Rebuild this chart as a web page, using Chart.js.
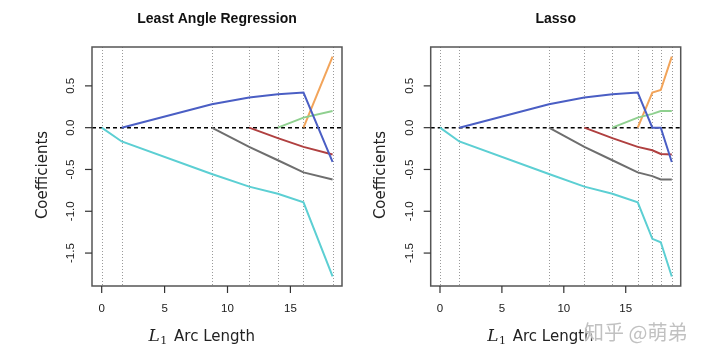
<!DOCTYPE html>
<html>
<head>
<meta charset="utf-8">
<script src="https://cdn.jsdelivr.net/npm/chart.js@4.4.1/dist/chart.umd.min.js"></script>
<style>
  html, body { margin: 0; padding: 0; background: #ffffff; }
  #wrap { position: relative; width: 720px; height: 361px; overflow: hidden; }
  .panel { position: absolute; top: 0; width: 360px; height: 361px; }
  #wm { position: absolute; left: 584px; top: 317px; font: 20px "Noto Sans CJK SC", sans-serif;
        color: rgba(190,190,190,0.95); text-shadow: 0 0 2px #fff, 0 0 3px #fff; white-space: nowrap; }
</style>
</head>
<body>
<div id="wrap">
  <div class="panel" style="left:0"><canvas id="c1" width="360" height="361"></canvas></div>
  <div class="panel" style="left:360px"><canvas id="c2" width="360" height="361"></canvas></div>
  <div id="wm">知乎 @萌弟</div>
</div>
<script>
// ---------------- data ----------------
const seriesNames  = ['cyan', 'blue', 'gray', 'red', 'green', 'orange'];
const seriesColors = ['#5ccfd3', '#4a5ec4', '#6e6e6e', '#b04040', '#8fd08f', '#f2a45a'];

// Least Angle Regression: knots (L1 arc length) and coefficient values at the knots
const larKnots  = [0, 1.59, 8.75, 11.72, 14.0, 16.04, 18.35];
const larCyan   = [0, -0.165, -0.554, -0.705, -0.79, -0.893, -1.78];
const larBlue   = [null, 0, 0.28, 0.36, 0.40, 0.42, -0.41];
const larGray   = [null, null, 0, -0.23, -0.39, -0.535, -0.62];
const larRed    = [null, null, null, 0, -0.125, -0.23, -0.32];
const larGreen  = [null, null, null, null, 0, 0.12, 0.20];
const larOrange = [null, null, null, null, null, 0, 0.85];

// Lasso
const lassoKnots  = [0, 1.56, 8.8, 11.66, 13.92, 15.97, 17.15, 17.83, 18.72];
const lassoCyan   = [0, -0.165, -0.554, -0.705, -0.79, -0.893, -1.33, -1.37, -1.78];
const lassoBlue   = [null, 0, 0.28, 0.36, 0.40, 0.42, 0, 0, -0.41];
const lassoGray   = [null, null, 0, -0.23, -0.39, -0.535, -0.58, -0.62, -0.62];
const lassoRed    = [null, null, null, 0, -0.125, -0.23, -0.27, -0.315, -0.32];
const lassoGreen  = [null, null, null, null, 0, 0.12, 0.165, 0.20, 0.20];
const lassoOrange = [null, null, null, null, null, 0, 0.42, 0.45, 0.85];

const xTickValues = [0, 5, 10, 15];
const xTickLabels = ['0', '5', '10', '15'];
const yTickValues = [-1.5, -1.0, -0.5, 0.0, 0.5];
const yTickLabels = ['-1.5', '-1.0', '-0.5', '0.0', '0.5'];

const titles = ['Least Angle Regression', 'Lasso'];
const yLabel = 'Coefficients';
const xLabelVar = 'L';
const xLabelSub = '1';
const xLabelRest = ' Arc Length';

// ---------------- helpers ----------------
function buildDatasets(knots, seriesList) {
  return seriesList.map((vals, i) => {
    const pts = [];
    vals.forEach((v, k) => { if (v !== null) pts.push({ x: knots[k], y: v }); });
    return {
      label: seriesNames[i],
      data: pts,
      showLine: true,
      borderColor: seriesColors[i],
      backgroundColor: seriesColors[i],
      borderWidth: 2,
      pointRadius: 0,
      tension: 0,
      fill: false
    };
  });
}

function makeDecor(knots, title) {
  return {
    id: 'decor',
    beforeDatasetsDraw(chart) {
      const ctx = chart.ctx, a = chart.chartArea;
      const xs = chart.scales.x, ys = chart.scales.y;
      ctx.save();
      // dotted vertical lines at knots
      ctx.strokeStyle = '#9a9a9a';
      ctx.lineWidth = 1;
      ctx.setLineDash([1, 2]);
      knots.forEach(k => {
        const px = Math.round(xs.getPixelForValue(k)) + 0.5;
        ctx.beginPath(); ctx.moveTo(px, a.top); ctx.lineTo(px, a.bottom); ctx.stroke();
      });
      // dashed zero line
      ctx.strokeStyle = '#000';
      ctx.lineWidth = 1.5;
      ctx.setLineDash([4, 3]);
      const py0 = ys.getPixelForValue(0);
      ctx.beginPath(); ctx.moveTo(a.left, py0); ctx.lineTo(a.right, py0); ctx.stroke();
      ctx.restore();
    },
    afterDraw(chart) {
      const ctx = chart.ctx, a = chart.chartArea;
      const xs = chart.scales.x, ys = chart.scales.y;
      ctx.save();
      ctx.setLineDash([]);
      // box
      ctx.strokeStyle = '#555';
      ctx.lineWidth = 1.5;
      ctx.strokeRect(a.left, a.top, a.right - a.left, a.bottom - a.top);
      // y ticks
      ctx.lineWidth = 1.2;
      ctx.strokeStyle = '#333';
      ctx.fillStyle = '#1a1a1a';
      ctx.font = '11.5px "Liberation Sans", Arial, sans-serif';
      yTickValues.forEach((v, i) => {
        const py = ys.getPixelForValue(v);
        ctx.beginPath(); ctx.moveTo(a.left, py); ctx.lineTo(a.left - 7, py); ctx.stroke();
        ctx.save();
        ctx.translate(a.left - 18, py);
        ctx.rotate(-Math.PI / 2);
        ctx.textAlign = 'center';
        ctx.textBaseline = 'alphabetic';
        ctx.fillText(yTickLabels[i], 0, 0);
        ctx.restore();
      });
      // x ticks
      xTickValues.forEach((v, i) => {
        const px = xs.getPixelForValue(v);
        ctx.beginPath(); ctx.moveTo(px, a.bottom); ctx.lineTo(px, a.bottom + 7); ctx.stroke();
        ctx.textAlign = 'center';
        ctx.textBaseline = 'alphabetic';
        ctx.fillText(xTickLabels[i], px, 311.5);
      });
      // title
      ctx.fillStyle = '#111';
      ctx.font = 'bold 14px "Liberation Sans", Arial, sans-serif';
      ctx.textAlign = 'center';
      ctx.fillText(title, (a.left + a.right) / 2, 23);
      // y label
      ctx.fillStyle = '#222';
      ctx.font = '15px "DejaVu Sans", sans-serif';
      ctx.save();
      ctx.translate(a.left - 45.5, 175);
      ctx.rotate(-Math.PI / 2);
      ctx.textAlign = 'center';
      ctx.fillText(yLabel, 0, 0);
      ctx.restore();
      // x label: italic L, subscript 1, then text
      ctx.textAlign = 'left';
      let x = a.left + 56.5;
      const base = 341;
      ctx.font = 'italic 17px "DejaVu Serif", "Liberation Serif", serif';
      ctx.fillText(xLabelVar, x, base);
      x += ctx.measureText(xLabelVar).width + 0.5;
      ctx.font = '11px "DejaVu Serif", "Liberation Serif", serif';
      ctx.fillText(xLabelSub, x, base + 3);
      x += ctx.measureText(xLabelSub).width + 2;
      ctx.font = '15px "DejaVu Sans", sans-serif';
      ctx.fillText(xLabelRest, x, base);
      ctx.restore();
    }
  };
}

function makeChart(id, knots, seriesList, title, xMin, xMax, padLeft, padRight) {
  return new Chart(document.getElementById(id), {
    type: 'scatter',
    data: { datasets: buildDatasets(knots, seriesList) },
    options: {
      responsive: false,
      animation: false,
      devicePixelRatio: 1,
      layout: { padding: { left: padLeft, right: padRight, top: 47, bottom: 75 } },
      plugins: { legend: { display: false }, tooltip: { enabled: false }, title: { display: false } },
      scales: {
        x: { type: 'linear', min: xMin, max: xMax, display: false },
        y: { type: 'linear', min: -1.894, max: 0.965, display: false }
      }
    },
    plugins: [makeDecor(knots, title)]
  });
}

makeChart('c1', larKnots, [larCyan, larBlue, larGray, larRed, larGreen, larOrange],
          titles[0], -0.77, 19.1, 92, 18);
makeChart('c2', lassoKnots, [lassoCyan, lassoBlue, lassoGray, lassoRed, lassoGreen, lassoOrange],
          titles[1], -0.75, 19.44, 70.7, 39.3);
</script>
</body>
</html>
